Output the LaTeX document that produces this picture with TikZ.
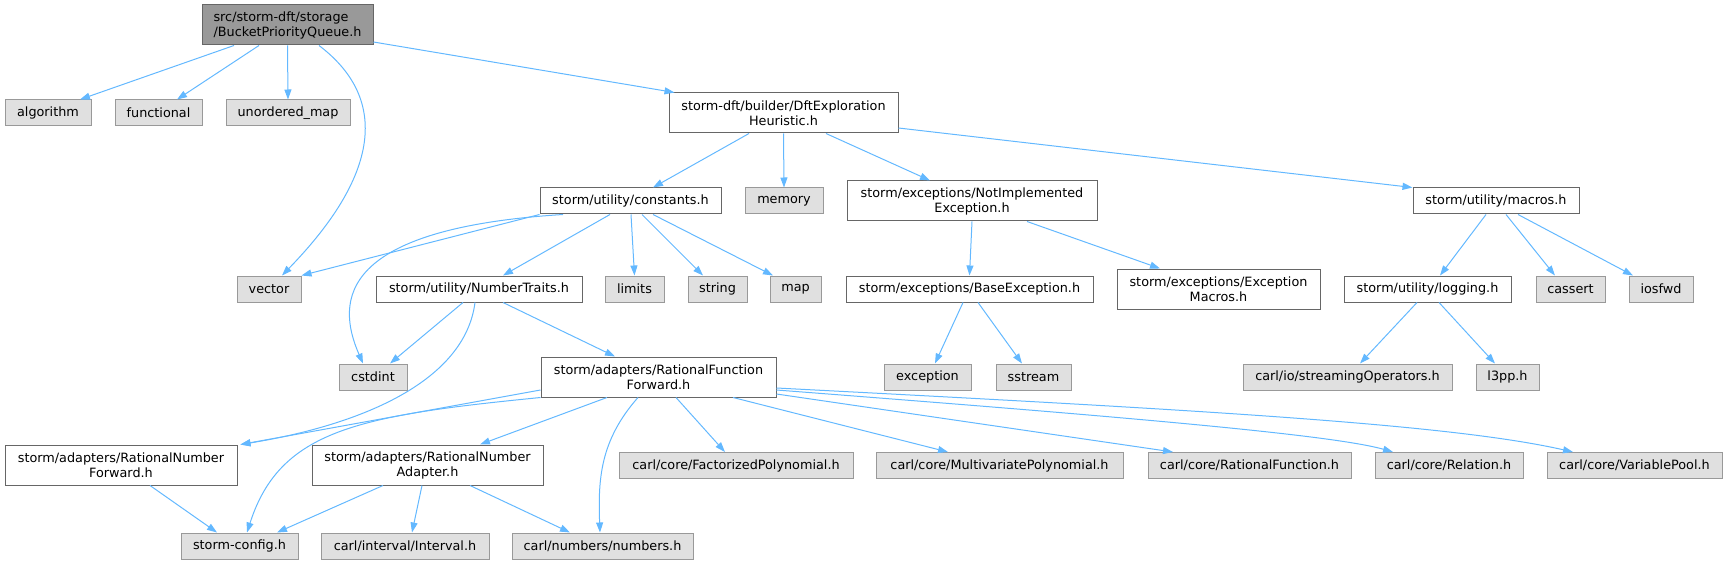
\documentclass[tikz,border=0pt]{standalone}
\usepackage{fontspec}
\setmainfont{DejaVu Sans}
\usetikzlibrary{arrows.meta,calc}
\definecolor{edgeblue}{RGB}{99,184,255}
\definecolor{syspale}{RGB}{224,224,224}
\definecolor{sysgray}{RGB}{153,153,153}
\definecolor{filegray}{RGB}{102,102,102}
\definecolor{maingray}{RGB}{153,153,153}

\begin{document}
\begin{tikzpicture}[x=1pt,y=-1pt,>={Triangle[length=10pt,width=7pt]},
  every node/.style={font=\fontsize{12.8pt}{15pt}\selectfont,align=center,inner sep=1pt,line width=1pt},
  sysbox/.style={draw=sysgray,fill=syspale,minimum height=26pt},
  filebox/.style={draw=filegray,fill=white,minimum height=26pt},
  mainbox/.style={draw=filegray,fill=maingray,minimum height=40pt},
  incl/.style={->,draw=edgeblue,fill=none,line width=1pt}]
  \useasboundingbox (0,0) rectangle (1727,564);
  \node[mainbox,minimum width=171pt,align=left] (queue) at (287.5,25) {src/storm-dft/storage\\/BucketPriorityQueue.h};
  \node[sysbox,minimum width=86pt] (algorithm) at (48,113) {algorithm};
  \node[sysbox,minimum width=87pt] (functional) at (158.5,113) {functional};
  \node[sysbox,minimum width=124pt] (unordmap) at (288,113) {unordered\_map};
  \node[filebox,minimum width=229pt,minimum height=40pt] (heuristic) at (783.5,113) {storm-dft/builder/DftExploration\\Heuristic.h};
  \node[sysbox,minimum width=64pt] (vector) at (269,289) {vector};
  \node[filebox,minimum width=181pt] (constants) at (630.5,201) {storm/utility/constants.h};
  \node[sysbox,minimum width=78pt] (memory) at (784,201) {memory};
  \node[filebox,minimum width=250pt,minimum height=40pt] (notimpl) at (972,201) {storm/exceptions/NotImplemented\\Exception.h};
  \node[filebox,minimum width=166pt] (macros) at (1496,201) {storm/utility/macros.h};
  \node[filebox,minimum width=206pt] (numtraits) at (479,289) {storm/utility/NumberTraits.h};
  \node[sysbox,minimum width=59pt] (limits) at (634.5,289) {limits};
  \node[sysbox,minimum width=59pt] (string) at (717.5,289) {string};
  \node[sysbox,minimum width=51pt] (map) at (795.5,289) {map};
  \node[filebox,minimum width=247pt] (baseexc) at (969.5,289) {storm/exceptions/BaseException.h};
  \node[filebox,minimum width=203pt,minimum height=40pt] (excmacros) at (1218.5,289) {storm/exceptions/Exception\\Macros.h};
  \node[filebox,minimum width=167pt] (logging) at (1427.5,289) {storm/utility/logging.h};
  \node[sysbox,minimum width=69pt] (cassert) at (1570.5,289) {cassert};
  \node[sysbox,minimum width=64pt] (iosfwd) at (1661,289) {iosfwd};
  \node[sysbox,minimum width=68pt] (cstdint) at (373,377) {cstdint};
  \node[filebox,minimum width=235pt,minimum height=40pt] (ratfuncfwd) at (658.5,377) {storm/adapters/RationalFunction\\Forward.h};
  \node[sysbox,minimum width=87pt] (exception) at (927.5,377) {exception};
  \node[sysbox,minimum width=75pt] (sstream) at (1033.5,377) {sstream};
  \node[sysbox,minimum width=209pt] (streamops) at (1347.5,377) {carl/io/streamingOperators.h};
  \node[sysbox,minimum width=63pt] (lthreepp) at (1507.5,377) {l3pp.h};
  \node[filebox,minimum width=232pt,minimum height=40pt] (ratnumfwd) at (121,465) {storm/adapters/RationalNumber\\Forward.h};
  \node[filebox,minimum width=231pt,minimum height=40pt] (ratnumadapt) at (427.5,465) {storm/adapters/RationalNumber\\Adapter.h};
  \node[sysbox,minimum width=234pt] (factpoly) at (736,465.5) {carl/core/FactorizedPolynomial.h};
  \node[sysbox,minimum width=247pt] (multipoly) at (999.5,465.5) {carl/core/MultivariatePolynomial.h};
  \node[sysbox,minimum width=203pt] (ratfunc) at (1249.5,465.5) {carl/core/RationalFunction.h};
  \node[sysbox,minimum width=148pt] (relation) at (1449,465.5) {carl/core/Relation.h};
  \node[sysbox,minimum width=175pt] (varpool) at (1634.5,465.5) {carl/core/VariablePool.h};
  \node[sysbox,minimum width=117pt] (stormcfg) at (239.5,546) {storm-config.h};
  \node[sysbox,minimum width=168pt] (interval) at (405,546) {carl/interval/Interval.h};
  \node[sysbox,minimum width=181pt] (numbers) at (602.5,546) {carl/numbers/numbers.h};

  \draw[incl] ([xshift=-53.5pt]queue.south) -- ([xshift=32pt]algorithm.north);
  \draw[incl] ([xshift=-28.5pt]queue.south) -- ([xshift=18.5pt]functional.north);
  \draw[incl] (queue.south) -- (unordmap.north);
  \draw[incl] ([xshift=31.5pt]queue.south) .. controls +(66,50) and +(103,-106) .. ([xshift=13pt]vector.north);
  \draw[incl] ([yshift=-17pt]queue.east) -- ([xshift=6pt]heuristic.north west);
  \draw[incl] ([xshift=-34.5pt]heuristic.south) -- ([xshift=22.5pt]constants.north);
  \draw[incl] (heuristic.south) -- (memory.north);
  \draw[incl] ([xshift=42.5pt]heuristic.south) -- ([xshift=-42pt]notimpl.north);
  \draw[incl] ([yshift=-15pt]heuristic.east) -- (macros.north west);
  \draw[incl] (constants.south west) -- (vector.north east);
  \draw[incl] ([xshift=-67.5pt]constants.south) .. controls +(-223,14) and +(-28,-64) .. ([xshift=-10pt]cstdint.north);
  \draw[incl] ([xshift=-20.5pt]constants.south) -- ([xshift=24pt]numtraits.north);
  \draw[incl] ([xshift=0.5pt]constants.south) -- (limits.north);
  \draw[incl] ([xshift=11.5pt]constants.south) -- ([xshift=-14.5pt]string.north);
  \draw[incl] ([xshift=22.5pt]constants.south) -- ([xshift=-22.5pt]map.north);
  \draw[incl] (notimpl.south) -- (baseexc.north);
  \draw[incl] ([xshift=55pt]notimpl.south) -- ([xshift=-58.5pt]excmacros.north);
  \draw[incl] ([xshift=-6.5pt]baseexc.south) -- ([xshift=7.5pt]exception.north);
  \draw[incl] ([xshift=8.5pt]baseexc.south) -- ([xshift=-11.5pt]sstream.north);
  \draw[incl] ([xshift=-10pt]macros.south) -- ([xshift=12.5pt]logging.north);
  \draw[incl] ([xshift=10pt]macros.south) -- ([xshift=-15.5pt]cassert.north);
  \draw[incl] ([xshift=22pt]macros.south) -- ([xshift=-28pt]iosfwd.north);
  \draw[incl] ([xshift=-10.5pt]logging.south) -- ([xshift=12.5pt]streamops.north);
  \draw[incl] ([xshift=11.5pt]logging.south) -- ([xshift=-12.5pt]lthreepp.north);
  \draw[incl] ([xshift=-16pt]numtraits.south) -- ([xshift=17pt]cstdint.north);
  \draw[incl] ([xshift=24pt]numtraits.south) -- ([xshift=-43.5pt]ratfuncfwd.north);
  \draw[incl] ([xshift=-4pt]numtraits.south) .. controls +(-10,78) and +(123,-20) .. ([xshift=3pt]ratnumfwd.north east);
  \draw[incl] ([yshift=-13pt]ratfuncfwd.west) -- ([xshift=3pt]ratnumfwd.north east);
  \draw[incl] (ratfuncfwd.south west) .. controls +(-181,18) and +(33,-103) .. ([xshift=7.5pt]stormcfg.north);
  \draw[incl] ([xshift=-51.5pt]ratfuncfwd.south) -- ([xshift=52.5pt]ratnumadapt.north);
  \draw[incl] ([xshift=-20.5pt]ratfuncfwd.south) .. controls +(-38,43) and +(-2,-53) .. ([xshift=-2.5pt]numbers.north);
  \draw[incl] ([xshift=17.5pt]ratfuncfwd.south) -- ([xshift=-11pt]factpoly.north);
  \draw[incl] ([xshift=74.5pt]ratfuncfwd.south) -- ([xshift=-51.5pt]multipoly.north);
  \draw[incl] ([yshift=-17pt]ratfuncfwd.east) -- ([xshift=-76.5pt]ratfunc.north);
  \draw[incl] ([yshift=-13pt]ratfuncfwd.east) .. controls +(324,25) and +(-63,-18) .. ([xshift=-56pt]relation.north);
  \draw[incl] ([yshift=-11pt]ratfuncfwd.east) .. controls +(424,22) and +(-123,-28) .. ([xshift=-61.5pt]varpool.north);
  \draw[incl] ([xshift=29pt]ratnumfwd.south) -- ([xshift=-22.5pt]stormcfg.north);
  \draw[incl] ([xshift=-44.5pt]ratnumadapt.south) -- ([xshift=37.5pt]stormcfg.north);
  \draw[incl] ([xshift=-5.5pt]ratnumadapt.south) -- ([xshift=7pt]interval.north);
  \draw[incl] ([xshift=42.5pt]ratnumadapt.south) -- ([xshift=-32.5pt]numbers.north);
\end{tikzpicture}
\end{document}
